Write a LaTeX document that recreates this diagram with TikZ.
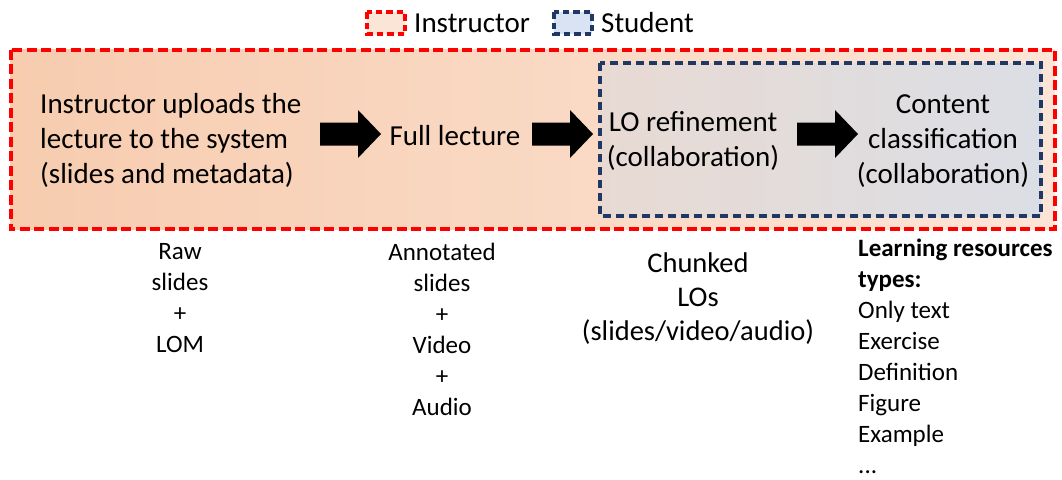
\documentclass[tikz,border=0pt]{standalone}
\usepackage{fontspec}
\setmainfont{Carlito}
\usetikzlibrary{calc}

\definecolor{instrred}{RGB}{255,0,0}
\definecolor{studblue}{RGB}{32,56,100}
\definecolor{peachA}{RGB}{247,204,175}
\definecolor{peachB}{RGB}{252,229,215}
\definecolor{mixA}{RGB}{232,218,211}
\definecolor{mixB}{RGB}{219,222,229}
\definecolor{legpeach}{RGB}{251,229,214}
\definecolor{legblue}{RGB}{218,227,243}

\tikzset{
  instrbox/.style={draw=instrred, line width=4pt, dash pattern=on 10pt off 4.5pt},
  studbox/.style={draw=studblue, line width=3.3pt, dash pattern=on 8pt off 5pt},
  legbox/.style={line width=4pt, dash pattern=on 6.5pt off 4pt},
  bigtxt/.style={inner sep=0pt, font=\fontsize{29}{35}\selectfont},
  smalltxt/.style={inner sep=0pt, font=\fontsize{25}{31}\selectfont},
  midtxt/.style={inner sep=0pt, font=\fontsize{28.5}{34}\selectfont},
}

% thick block arrow from one named coordinate to another
\newcommand\blockarrow[2]{%
  \fill let \p1=(#1), \p2=(#2) in
    (\x1,\y1+11.5pt) -- (\x2-23pt,\y1+11.5pt) -- (\x2-23pt,\y1+24pt) --
    (\x2,\y1) -- (\x2-23pt,\y1-24pt) -- (\x2-23pt,\y1-11.5pt) --
    (\x1,\y1-11.5pt) -- cycle;}

\begin{document}
\begin{tikzpicture}[x=1pt,y=-1pt]
\useasboundingbox (0,0) rectangle (1062,479);

% legend
\draw[instrbox, legbox, fill=legpeach] (367,12) rectangle (405,34);
\node[bigtxt, anchor=west] (leginstr) at (414,23) {Instructor};
\draw[studbox, legbox, fill=legblue] (554,12) rectangle (592,34);
\node[bigtxt, anchor=west] (legstud) at (601,23) {Student};

% instructor area
\draw[instrbox, left color=peachA, right color=peachB] (10.5,49.5) rectangle (1055,229);
% student area
\draw[studbox, left color=mixA, right color=mixB] (600,63) rectangle (1041,216);

% process steps
\node[bigtxt, anchor=west, align=left] (upload) at (40,140)
  {Instructor uploads the\\lecture to the system\\(slides and metadata)};
\node[bigtxt] (full) at (455,136) {Full lecture};
\node[bigtxt, align=center] (refine) at (693,141) {LO refinement\\(collaboration)};
\node[bigtxt, align=center] (classif) at (943,141)
  {Content\\classification\\(collaboration)};

% arrows between steps
\coordinate (a1s) at (320,134); \coordinate (a1e) at (381,134);
\coordinate (a2s) at (532,134); \coordinate (a2e) at (593,134);
\coordinate (a3s) at (797,134); \coordinate (a3e) at (858,134);
\blockarrow{a1s}{a1e}
\blockarrow{a2s}{a2e}
\blockarrow{a3s}{a3e}

% outputs of each step
\node[smalltxt, align=center] (raw) at (180,298) {Raw\\slides\\+\\LOM};
\node[smalltxt, align=center] (annot) at (442,329)
  {Annotated\\slides\\+\\Video\\+\\Audio};
\node[midtxt, align=center] (chunk) at (698,299)
  {Chunked\\LOs\\(slides/video/audio)};
\node[smalltxt, align=left, anchor=north west] (types) at (858,239)
  {\textbf{Learning resources}\\\textbf{types:}\\Only text\\Exercise\\Definition\\Figure\\Example\\...};
\end{tikzpicture}
\end{document}
